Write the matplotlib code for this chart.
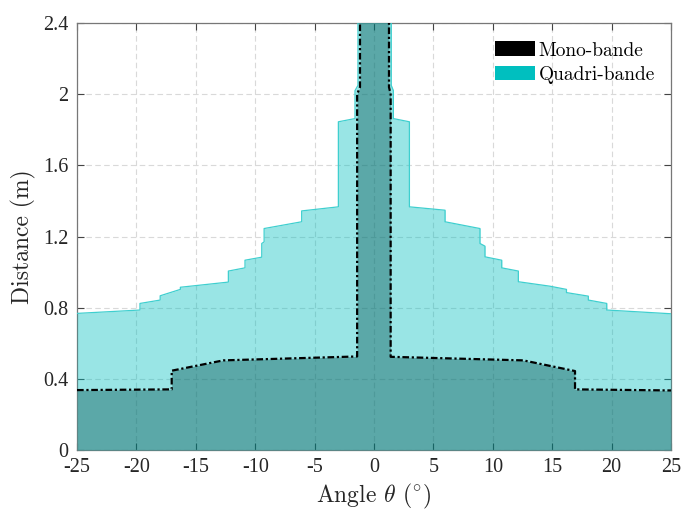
import matplotlib
matplotlib.use("Agg")
import matplotlib.pyplot as plt
from matplotlib.patches import Patch
import numpy as np

plt.rcParams['mathtext.fontset'] = 'cm'
plt.rcParams['axes.unicode_minus'] = False
plt.rcParams['font.family'] = ['Liberation Serif']

# Quadri-bande coverage profile (angle in degrees, distance in m)
quadri_angle = [-25, -19.7, -19.7, -18.0, -18.0, -16.3, -16.3, -14.9, -12.26, -12.26,
                -10.86, -10.86, -9.45, -9.45, -9.25, -9.25, -6.09, -6.09, -3.0, -3.0,
                -1.6, -1.6, -1.35, -1.35,
                1.45, 1.45, 1.63, 1.63, 2.98, 2.98, 5.98, 5.98, 8.92, 8.92, 9.34, 9.34,
                10.75, 10.75, 12.15, 12.15, 14.8, 16.2, 16.2, 18.04, 18.04, 19.59, 19.59, 25]
quadri_dist = [0.768, 0.787, 0.824, 0.843, 0.867, 0.903, 0.915, 0.925, 0.944, 1.006,
               1.024, 1.067, 1.084, 1.161, 1.17, 1.245, 1.283, 1.344, 1.367, 1.845,
               1.863, 2.02, 2.05, 2.6,
               2.6, 2.05, 2.02, 1.863, 1.845, 1.367, 1.348, 1.283, 1.245, 1.161, 1.146, 1.086,
               1.067, 1.024, 1.006, 0.946, 0.921, 0.903, 0.885, 0.865, 0.843, 0.824, 0.787, 0.766]

# Mono-bande coverage profile
mono_angle = [-25, -17.03, -17.03, -12.68, -1.42, -1.42, -1.18, -1.18,
              1.26, 1.26, 1.40, 1.40, 12.57, 16.92, 16.92, 25]
mono_dist = [0.337, 0.341, 0.446, 0.504, 0.526, 2.0, 2.04, 2.6,
             2.6, 2.04, 2.0, 0.524, 0.504, 0.444, 0.341, 0.335]

x_ticks = [-25, -20, -15, -10, -5, 0, 5, 10, 15, 20, 25]
y_ticks = [0, 0.4, 0.8, 1.2, 1.6, 2.0, 2.4]
y_tick_labels = ['0', '0.4', '0.8', '1.2', '1.6', '2', '2.4']

fig = plt.figure(figsize=(6.84, 5.12), dpi=100)
ax = fig.add_axes([0.1126, 0.121, 0.8684, 0.834])

ax.fill_between(mono_angle, mono_dist, 0, color='black', alpha=0.4, lw=0, zorder=2)
ax.fill_between(quadri_angle, quadri_dist, 0, color='#00bfbf', alpha=0.4, lw=0, zorder=3)
ax.plot(quadri_angle, quadri_dist, color='#3fcfcf', lw=0.9, zorder=4)
ax.plot(mono_angle, mono_dist, color='black', lw=1.6, ls=(0, (3, 1.2, 1, 1.2)), zorder=5)

ax.set_xlim(-25, 25)
ax.set_ylim(0, 2.4)
ax.set_xticks(x_ticks)
ax.set_xticklabels([str(v) for v in x_ticks], fontfamily='Liberation Serif')
ax.set_yticks(y_ticks)
ax.set_yticklabels(y_tick_labels, fontfamily='Liberation Serif')
ax.set_axisbelow(True)
ax.grid(True, color='#d9d9d9', ls=(0, (5, 3)), lw=0.8, zorder=1)
ax.tick_params(direction='in', length=5, width=0.8, top=True, right=True,
               color='#444444', labelsize=14.5, labelcolor='#262626', pad=6)
for s in ax.spines.values():
    s.set_color('#777777')
    s.set_linewidth(0.9)

ax.set_xlabel(r'Angle $\theta$ ($^{\circ}$)', fontsize=17, fontfamily='cmr10', color='#262626', labelpad=3)
ax.set_ylabel('Distance (m)', fontsize=17, fontfamily='cmr10', color='#262626', labelpad=5)

handles = [Patch(facecolor='black', edgecolor='none'),
           Patch(facecolor='#00bfbf', edgecolor='none')]
ax.legend(handles, ['Mono-bande', 'Quadri-bande'], loc='upper left',
          bbox_to_anchor=(0.69, 0.975), frameon=False,
          prop={'family': 'cmr10', 'size': 14}, handlelength=2.1, handleheight=0.8,
          handletextpad=0.15, labelspacing=0.3, borderaxespad=0)

fig.savefig('out.png', dpi=100)
